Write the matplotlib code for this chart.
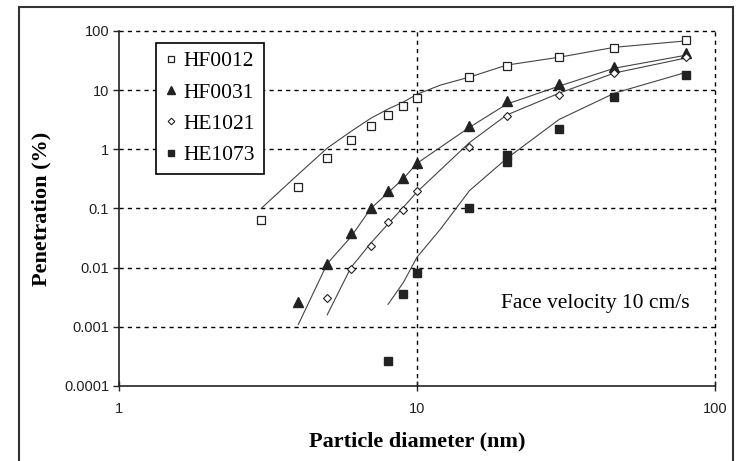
import matplotlib.pyplot as plt
from matplotlib.patches import Rectangle

# Pontos medidos (diametro em nm, penetracao em %)
hf0012_d = [3, 4, 5, 6, 7, 8, 9, 10, 15, 20, 30, 46, 80]
hf0012_p = [0.063, 0.23, 0.7, 1.42, 2.45, 3.77, 5.3, 7.3, 16.6, 25.5, 36, 51, 70]

hf0031_d = [4, 5, 6, 7, 8, 9, 10, 15, 20, 30, 46, 80]
hf0031_p = [0.0026, 0.0117, 0.039, 0.1, 0.2, 0.33, 0.58, 2.5, 6.5, 12.6, 24.5, 42]

he1021_d = [5, 6, 7, 8, 9, 10, 15, 20, 30, 46, 80]
he1021_p = [0.0031, 0.0096, 0.023, 0.058, 0.096, 0.2, 1.08, 3.6, 8.3, 19.5, 36]

he1073_d = [8, 9, 10, 15, 20, 20, 30, 46, 80]
he1073_p = [0.00026, 0.0036, 0.0081, 0.1, 0.8, 0.6, 2.2, 7.6, 18]

# Curvas ajustadas
fit_hf0012_d = [3, 4, 5, 6, 7, 8, 9, 10, 12, 15, 20, 30, 46, 80]
fit_hf0012_p = [0.1, 0.38, 1.05, 2.0, 3.35, 4.8, 6.3, 8.5, 12.2, 16.6, 26.5, 36, 53, 68]

fit_hf0031_d = [4, 5, 6, 7, 8, 9, 10, 15, 20, 30, 46, 80]
fit_hf0031_p = [0.0011, 0.0117, 0.033, 0.1, 0.185, 0.32, 0.58, 2.35, 5.8, 11.7, 23.5, 39]

fit_he1021_d = [5, 6, 7, 8, 9, 10, 15, 20, 30, 46, 80]
fit_he1021_p = [0.0016, 0.01, 0.026, 0.055, 0.105, 0.19, 1.3, 3.8, 8.9, 19.5, 35]

fit_he1073_d = [8, 9, 10, 12, 15, 20, 30, 46, 80]
fit_he1073_p = [0.0024, 0.0056, 0.015, 0.045, 0.2, 0.7, 3.2, 8.9, 20]

y_ticks = [0.0001, 0.001, 0.01, 0.1, 1, 10, 100]
y_labels = ["0.0001", "0.001", "0.01", "0.1", "1", "10", "100"]
x_ticks = [1, 10, 100]
x_labels = ["1", "10", "100"]

serif = "Liberation Serif"
sans = "Liberation Sans"
ink = "#222222"

fig = plt.figure(figsize=(7.38, 4.61), dpi=100)
ax = fig.add_axes([0.1612, 0.1627, 0.8076, 0.7701])

# curvas
for d, p in [(fit_hf0012_d, fit_hf0012_p), (fit_hf0031_d, fit_hf0031_p),
             (fit_he1021_d, fit_he1021_p), (fit_he1073_d, fit_he1073_p)]:
    ax.plot(d, p, color="#444444", lw=0.8, zorder=3)

# pontos
h1, = ax.plot(hf0012_d, hf0012_p, ls="none", marker="s", ms=6, mfc="white",
              mec=ink, mew=0.9, label="HF0012", zorder=4)
h2, = ax.plot(hf0031_d, hf0031_p, ls="none", marker="^", ms=7, mfc=ink,
              mec=ink, label="HF0031", zorder=4)
h3, = ax.plot(he1021_d, he1021_p, ls="none", marker="D", ms=4.5, mfc="white",
              mec=ink, mew=0.8, label="HE1021", zorder=4)
h4, = ax.plot(he1073_d, he1073_p, ls="none", marker="s", ms=6, mfc=ink,
              mec=ink, label="HE1073", zorder=4)

ax.set_xscale("log")
ax.set_yscale("log")
ax.set_xlim(1, 100)
ax.set_ylim(0.0001, 100)

ax.set_xticks(x_ticks)
ax.set_xticklabels(x_labels, fontfamily=sans, fontsize=10.5)
ax.set_yticks(y_ticks)
ax.set_yticklabels(y_labels, fontfamily=sans, fontsize=10.5)
ax.minorticks_off()
ax.tick_params(axis="x", direction="inout", length=7, width=1, pad=8, colors=ink)
ax.tick_params(axis="y", direction="out", length=4, width=1, pad=3, colors=ink)

# grade tracejada (inclui topo e direita)
for yv in y_ticks[1:]:
    ax.axhline(yv, color="black", lw=1, ls=(0, (3, 3)), zorder=1, clip_on=False)
for xv in x_ticks[1:]:
    ax.axvline(xv, color="black", lw=1, ls=(0, (3, 3)), zorder=1, clip_on=False)

ax.spines["top"].set_visible(False)
ax.spines["right"].set_visible(False)
ax.spines["left"].set_color(ink)
ax.spines["bottom"].set_color(ink)
ax.spines["left"].set_linewidth(1.2)
ax.spines["bottom"].set_linewidth(1.2)

ax.set_xlabel("Particle diameter (nm)", fontfamily=serif, fontweight="bold",
              fontsize=16, labelpad=11)
ax.set_ylabel("Penetration (%)", fontfamily=serif, fontweight="bold",
              fontsize=16, labelpad=9)

ax.text(0.80, 0.232, "Face velocity 10 cm/s", transform=ax.transAxes,
        fontfamily=serif, fontsize=15.5, ha="center", va="center", color="black")

leg = ax.legend(handles=[h1, h2, h3, h4], loc="upper left",
                bbox_to_anchor=(0.062, 0.967), prop={"family": serif, "size": 15.5},
                markerscale=0.75, handlelength=0.6, handletextpad=0.3,
                labelspacing=0.52, borderpad=0.4, borderaxespad=0,
                fancybox=False, framealpha=1, edgecolor="black")
leg.get_frame().set_linewidth(1.2)

# moldura externa
fig.add_artist(Rectangle((19 / 738, -0.02), 714 / 738, 1 - 7 / 461 + 0.02,
                         transform=fig.transFigure, fill=False,
                         edgecolor="#333333", lw=1.5))

fig.savefig("out.png", dpi=100)
